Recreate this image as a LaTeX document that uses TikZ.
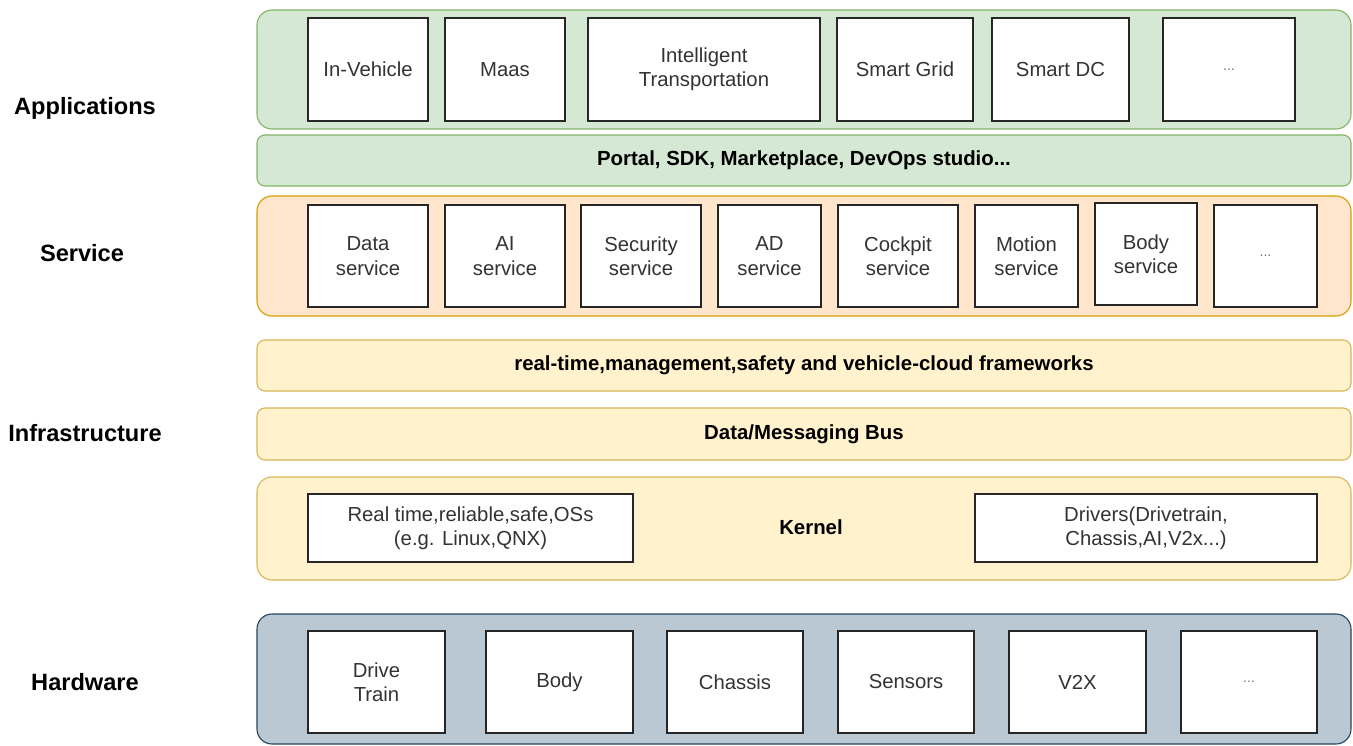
\documentclass[tikz,border=0pt]{standalone}
\usepackage{fontspec}
\setmainfont{Liberation Sans}
\definecolor{appfill}{HTML}{D5E8D4}
\definecolor{appline}{HTML}{82B366}
\definecolor{svcfill}{HTML}{FFE6CC}
\definecolor{svcline}{HTML}{D79B00}
\definecolor{infill}{HTML}{FFF2CC}
\definecolor{inline}{HTML}{D6B656}
\definecolor{hwfill}{HTML}{BAC8D3}
\definecolor{hwline}{HTML}{23445D}
\definecolor{boxtext}{HTML}{333333}
\begin{document}
\begin{tikzpicture}[x=1pt,y=1pt,yscale=-1,xscale=1,
  panel/.style={draw, line width=1.1pt, rounded corners=15pt, minimum width=1094pt, inner sep=0pt},
  bar/.style={draw, line width=1.1pt, rounded corners=8pt, minimum width=1094pt, inner sep=0pt,
    font=\bfseries\fontsize{20.4}{24}\selectfont},
  item/.style={draw=black!85, line width=1.3pt, fill=white, inner sep=0pt, align=center,
    text=boxtext, font=\fontsize{20.3}{24.5}\selectfont},
  more/.style={item, font=\fontsize{14}{16}\selectfont, text=black!55},
  layer/.style={font=\bfseries\fontsize{23.6}{28}\selectfont}]
\useasboundingbox (0,0) rectangle (1353,746);

%Shape: Rounded Rectangle [id:applications]
\node[panel, fill=appfill, draw=appline, minimum height=119pt] (apppanel) at (804,69.5) {};
\node[item, minimum width=120pt, minimum height=103pt] (inveh) at (368,69.5) {In-Vehicle};
\node[item, minimum width=120pt, minimum height=103pt] (maas) at (505,69.5) {Maas};
\node[item, minimum width=232pt, minimum height=103pt] (itrans) at (704,69.5) {Intelligent\\Transportation};
\node[item, minimum width=136pt, minimum height=103pt] (sgrid) at (905,69.5) {Smart Grid};
\node[item, minimum width=137pt, minimum height=103pt] (sdc) at (1060.5,69.5) {Smart DC};
\node[more, minimum width=132pt, minimum height=103pt] (appmore) at (1229,69.5) {...};
% Text Node
\node[bar, fill=appfill, draw=appline, minimum height=51pt] (portal) at (804,160.5) {Portal, SDK, Marketplace, DevOps studio...};

%Shape: Rounded Rectangle [id:service]
\node[panel, fill=svcfill, draw=svcline, minimum height=120pt] (svcpanel) at (804,256) {};
\node[item, minimum width=120pt, minimum height=102pt] (datasvc) at (368,256) {Data\\service};
\node[item, minimum width=120pt, minimum height=102pt] (aisvc) at (505,256) {AI\\service};
\node[item, minimum width=120pt, minimum height=102pt] (secsvc) at (641,256) {Security\\service};
\node[item, minimum width=103pt, minimum height=102pt] (adsvc) at (769.5,256) {AD\\service};
\node[item, minimum width=120pt, minimum height=102pt] (cocksvc) at (898,256) {Cockpit\\service};
\node[item, minimum width=103pt, minimum height=102pt] (motsvc) at (1026.5,256) {Motion\\service};
\node[item, minimum width=102pt, minimum height=102pt] (bodysvc) at (1146,254) {Body\\service};
\node[more, minimum width=103pt, minimum height=102pt] (svcmore) at (1265.5,256) {...};

%Shape: Rounded Rectangle [id:infrastructure]
\node[bar, fill=infill, draw=inline, minimum height=51pt] (frames) at (804,365.5) {real-time,management,safety and vehicle-cloud frameworks};
\node[bar, fill=infill, draw=inline, minimum height=52pt] (bus) at (804,434) {Data/Messaging Bus};
\node[panel, fill=infill, draw=inline, minimum height=103pt] (kernpanel) at (804,528.5) {};
\node[item, minimum width=325pt, minimum height=68pt] (rtos) at (470.5,528) {Real time,reliable,safe,OSs\\(e.g. Linux,QNX)};
\node[font=\bfseries\fontsize{20.4}{24}\selectfont] (kernel) at (811,527) {Kernel};
\node[item, minimum width=342pt, minimum height=68pt] (drivers) at (1146,528) {Drivers(Drivetrain,\\Chassis,AI,V2x...)};

%Shape: Rounded Rectangle [id:hardware]
\node[panel, fill=hwfill, draw=hwline, minimum height=130pt] (hwpanel) at (804,679) {};
\node[item, minimum width=137pt, minimum height=102pt] (drive) at (376.5,682) {Drive\\Train};
\node[item, minimum width=147pt, minimum height=102pt] (hwbody) at (559.5,682) {Body};
\node[item, minimum width=136pt, minimum height=102pt] (chassis) at (735,682) {Chassis};
\node[item, minimum width=136pt, minimum height=102pt] (sensors) at (906,682) {Sensors};
\node[item, minimum width=137pt, minimum height=102pt] (vtox) at (1077.5,682) {V2X};
\node[more, minimum width=136pt, minimum height=102pt] (hwmore) at (1249,682) {...};

% Text Node
\node[layer] (applab) at (85,108) {Applications};
\node[layer] (svclab) at (82,253) {Service};
\node[layer] (inflab) at (85,433) {Infrastructure};
\node[layer] (hwlab) at (85,682) {Hardware};

\end{tikzpicture}
\end{document}
